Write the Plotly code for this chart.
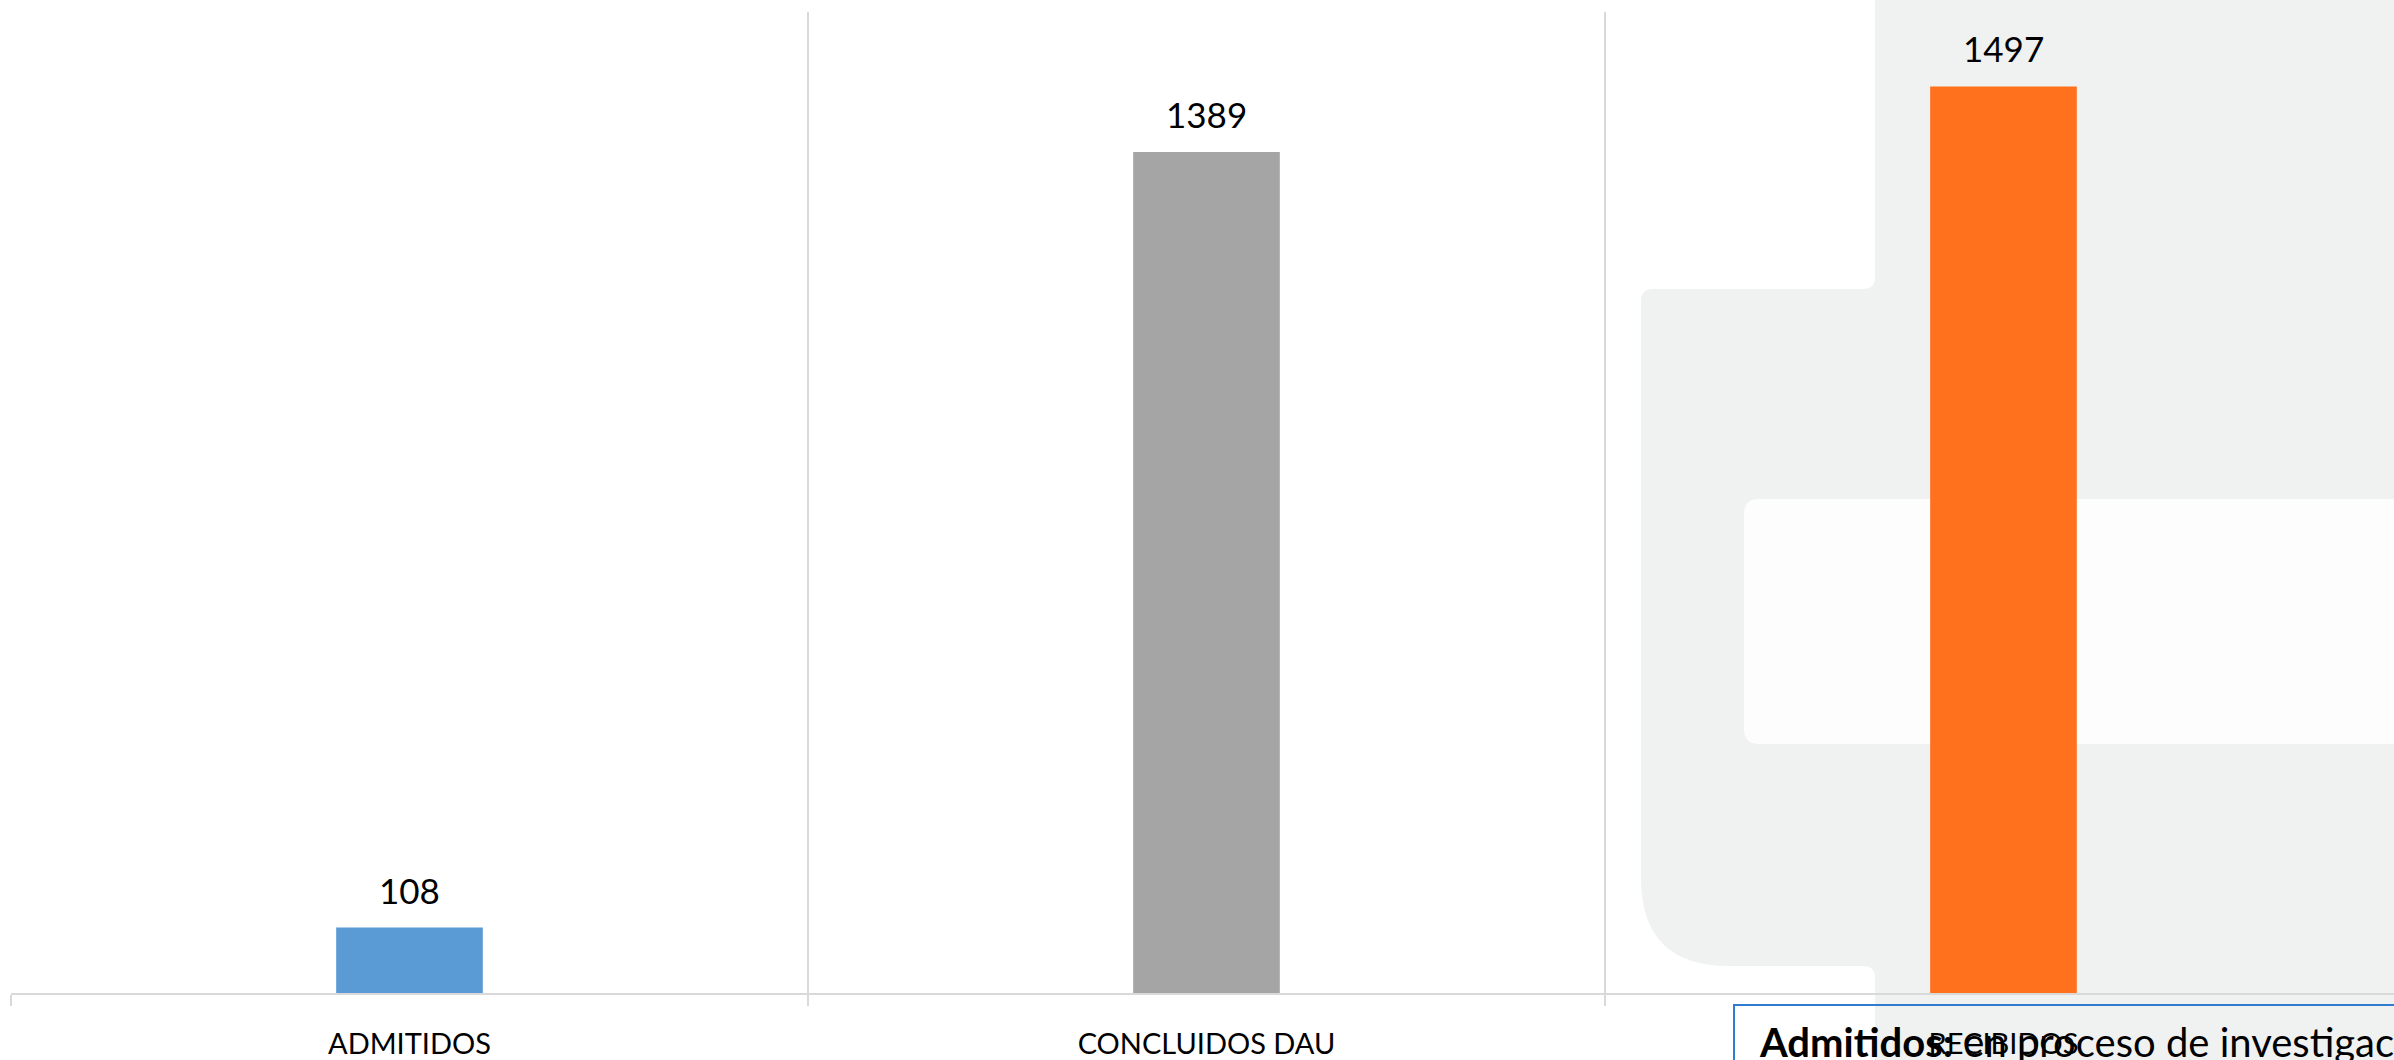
import plotly.graph_objects as go

categories = ["ADMITIDOS", "CONCLUIDOS DAU", "RECIBIDOS"]
values = [108, 1389, 1497]
bar_colors = ["#5B9BD5", "#A5A5A5", "#FF711D"]
note_bold = "Admitidos:"
note_text = " en proceso de investigación"

W, H = 2394, 1060
ML, MR, MT, MB = 11, 0, 12, 67
PW, PH = W - ML - MR, H - MT - MB


def px(x):
    return (x - ML) / PW


def py(y):
    return (H - MB - y) / PH


def path(points_cmds):
    out = []
    for cmd in points_cmds:
        c = cmd[0]
        nums = cmd[1:]
        coords = []
        for i in range(0, len(nums), 2):
            coords.append(f"{px(nums[i]):.5f},{py(nums[i+1]):.5f}")
        out.append(c + " " + " ".join(coords))
    return " ".join(out) + " Z"


grey = "#F0F1F1"
r = 12
R = 88
outer = path([
    ("M", 1875, -10),
    ("L", 1875, 289 - r),
    ("Q", 1875, 289, 1875 - r, 289),
    ("L", 1641 + r, 289),
    ("Q", 1641, 289, 1641, 289 + r),
    ("L", 1641, 966 - R),
    ("Q", 1641, 966, 1641 + R, 966),
    ("L", 1875 - r, 966),
    ("Q", 1875, 966, 1875, 966 + r),
    ("L", 1875, 1080),
    ("L", 2400, 1080),
    ("L", 2400, -10),
])
r2 = 15
inner = path([
    ("M", 2400, 499),
    ("L", 1744 + r2, 499),
    ("Q", 1744, 499, 1744, 499 + r2),
    ("L", 1744, 744 - r2),
    ("Q", 1744, 744, 1744 + r2, 744),
    ("L", 2400, 744),
])

fig = go.Figure()
fig.add_trace(go.Bar(
    x=categories,
    y=values,
    marker=dict(color=bar_colors, line=dict(width=0)),
    width=0.184,
    hoverinfo="skip",
))

shapes = [
    dict(type="path", path=outer, xref="paper", yref="paper",
         fillcolor=grey, line=dict(width=0), layer="below"),
    dict(type="path", path=inner, xref="paper", yref="paper",
         fillcolor="#FDFDFD", line=dict(width=0), layer="below"),
    dict(type="rect", xref="paper", yref="paper",
         x0=px(1734), x1=px(2410), y0=py(1005), y1=py(1080),
         fillcolor="rgba(0,0,0,0)", line=dict(color="#2E7BCF", width=2), layer="above"),
]

annotations = [
    dict(text=str(v), x=c, y=v, xref="x", yref="y",
         xanchor="center", yanchor="bottom", yshift=15, showarrow=False,
         font=dict(family="Lato", size=35, color="#000000"))
    for c, v in zip(categories, values)
]
annotations.append(
    dict(text=f"<b>{note_bold}</b>{note_text}", xref="paper", yref="paper",
         x=px(1757), y=py(1016), xanchor="left", yanchor="top",
         showarrow=False, align="left",
         font=dict(family="Lato", size=40, color="#000000"))
)

fig.update_layout(
    width=W, height=H,
    margin=dict(l=ML, r=MR, t=MT, b=MB, pad=0),
    paper_bgcolor="#FFFFFF",
    plot_bgcolor="rgba(0,0,0,0)",
    showlegend=False,
    shapes=shapes,
    annotations=annotations,
    font=dict(family="Lato", color="#000000"),
    xaxis=dict(
        range=[-0.5, 2.49],
        tickson="boundaries",
        showgrid=True, gridcolor="#D9D9D9", gridwidth=2,
        ticks="outside", ticklen=11, tickcolor="#D9D9D9", tickwidth=2,
        showline=True, linecolor="#D9D9D9", linewidth=2,
        tickfont=dict(family="Lato", size=29, color="#000000"),
        ticklabelstandoff=24,
        fixedrange=True,
    ),
    yaxis=dict(
        range=[0, 1620], visible=False, showgrid=False, zeroline=False,
        fixedrange=True,
    ),
)

fig.write_html(
    "out.html",
    config={"displayModeBar": False, "staticPlot": True},
    post_script="document.body.style.margin='0px';document.body.style.overflow='hidden';",
)
